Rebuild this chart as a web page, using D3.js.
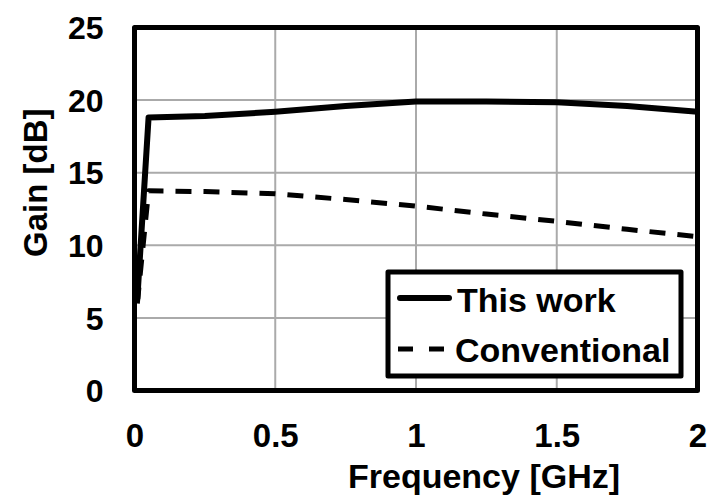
<!DOCTYPE html>
<html><head><meta charset="utf-8">
<script src="https://cdn.jsdelivr.net/npm/d3@7"></script>
<style>
html,body{margin:0;padding:0;background:#fff;}
svg{display:block;}
text{font-family:"Liberation Sans",Arial,sans-serif;font-weight:bold;fill:#000;}
</style></head>
<body>
<svg id="chart" width="712" height="497"></svg>
<script>
const freq = [0.01, 0.05, 0.25, 0.5, 0.75, 1.0, 1.25, 1.5, 1.75, 2.0];
const thisWork = [6.3, 18.8, 18.9, 19.2, 19.6, 19.9, 19.9, 19.85, 19.6, 19.2];
const conventional = [6.0, 13.75, 13.7, 13.55, 13.15, 12.7, 12.15, 11.65, 11.1, 10.6];
const xTicks = [0, 0.5, 1, 1.5, 2];
const yTicks = [0, 5, 10, 15, 20, 25];
const seriesNames = ["This work", "Conventional"];

const svg = d3.select("#chart");
const L = 134.5, R = 697.5, T = 27.5, B = 390.5;
const x = d3.scaleLinear().domain([0, 2]).range([L, R]);
const y = d3.scaleLinear().domain([0, 25]).range([B, T]);

// grid
const grid = svg.append("g");
grid.selectAll(".gx").data(xTicks.filter(d => d > 0 && d < 2)).enter().append("line")
  .attr("x1", d => x(d)).attr("x2", d => x(d)).attr("y1", T).attr("y2", B)
  .attr("stroke", "#aaaaaa").attr("stroke-width", 2);
grid.selectAll(".gy").data(yTicks.filter(d => d > 0 && d < 25)).enter().append("line")
  .attr("y1", d => y(d)).attr("y2", d => y(d)).attr("x1", L).attr("x2", R)
  .attr("stroke", "#aaaaaa").attr("stroke-width", 2);

// axes tick labels
const xAxis = svg.append("g").attr("transform", `translate(0,${B})`)
  .call(d3.axisBottom(x).tickValues(xTicks).tickSize(0).tickPadding(0).tickFormat(d3.format("")));
xAxis.select(".domain").remove();
xAxis.selectAll("text").attr("dy", null).attr("y", 56).attr("font-size", 33)
  .style("font-family", "'Liberation Sans',Arial,sans-serif").style("font-weight", "bold");

const yAxis = svg.append("g").attr("transform", `translate(${L},0)`)
  .call(d3.axisLeft(y).tickValues(yTicks).tickSize(0).tickPadding(31));
yAxis.select(".domain").remove();
yAxis.selectAll("text").attr("dy", "0.35em").attr("font-size", 32)
  .style("font-family", "'Liberation Sans',Arial,sans-serif").style("font-weight", "bold");

// lines
const line = d3.line().x((d, i) => x(freq[i])).y(d => y(d));
svg.append("path").datum(thisWork).attr("d", line)
  .attr("fill", "none").attr("stroke", "#000").attr("stroke-width", 6)
  .attr("stroke-linejoin", "round");
svg.append("path").datum(conventional).attr("d", line)
  .attr("fill", "none").attr("stroke", "#000").attr("stroke-width", 5)
  .attr("stroke-dasharray", "16,12").attr("stroke-linejoin", "round");

// frame
svg.append("rect").attr("x", L).attr("y", T).attr("width", R - L).attr("height", B - T)
  .attr("fill", "none").attr("stroke", "#000").attr("stroke-width", 5)
  .attr("stroke-linejoin", "round");

// legend
const lg = svg.append("g");
lg.append("rect").attr("x", 388).attr("y", 272).attr("width", 293).attr("height", 104)
  .attr("fill", "#fff").attr("stroke", "#000").attr("stroke-width", 5).attr("stroke-linejoin", "round");
lg.append("line").attr("x1", 400).attr("x2", 449).attr("y1", 298).attr("y2", 298)
  .attr("stroke", "#000").attr("stroke-width", 6).attr("stroke-linecap", "round");
lg.append("line").attr("x1", 398).attr("x2", 446).attr("y1", 349).attr("y2", 349)
  .attr("stroke", "#000").attr("stroke-width", 5).attr("stroke-dasharray", "15,16");
lg.append("text").attr("x", 457).attr("y", 312).attr("font-size", 34).text(seriesNames[0]);
lg.append("text").attr("x", 455).attr("y", 362).attr("font-size", 34).text(seriesNames[1]);

// axis titles
svg.append("text").attr("x", 348).attr("y", 488).attr("font-size", 34).text("Frequency [GHz]");
svg.append("text").attr("transform", "translate(46.5,257) rotate(-90)")
  .attr("font-size", 33).text("Gain [dB]");
</script>
</body></html>
